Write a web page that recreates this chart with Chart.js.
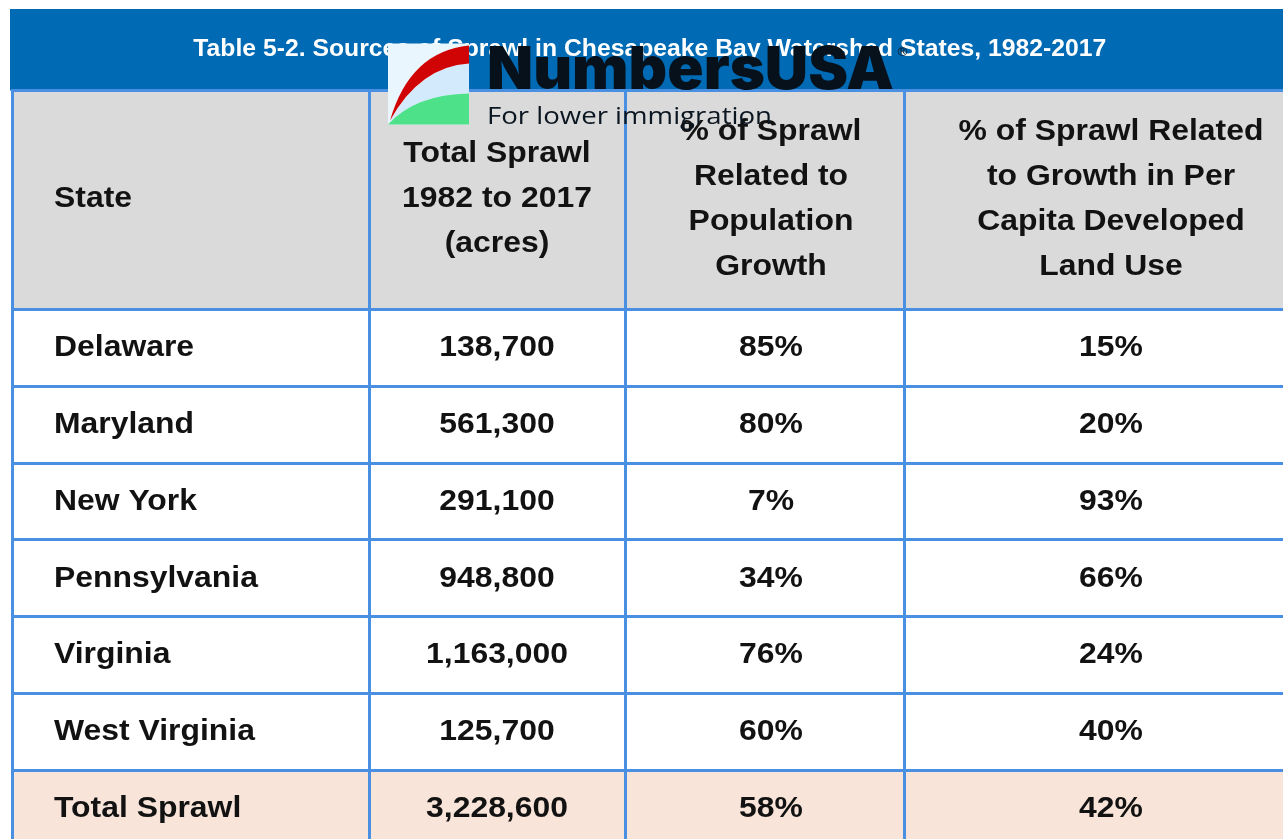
<!DOCTYPE html>
<html>
<head>
<meta charset="utf-8">
<script src="https://cdn.jsdelivr.net/npm/chart.js@4.4.1/dist/chart.umd.min.js"></script>
<style>
html,body{margin:0;padding:0;background:#fff;overflow:hidden}
#wrap{position:relative;width:1283px;height:839px}
</style>
</head>
<body>
<div id="wrap"><canvas id="c"></canvas></div>
<script>
// ---------- DATA ----------
const titleText = 'Table 5-2. Sources of Sprawl in Chesapeake Bay Watershed States, 1982-2017';
const headerLines = [
  ['State'],
  ['Total Sprawl', '1982 to 2017', '(acres)'],
  ['% of Sprawl', 'Related to', 'Population', 'Growth'],
  ['% of Sprawl Related', 'to Growth in Per', 'Capita Developed', 'Land Use']
];
const states = ['Delaware', 'Maryland', 'New York', 'Pennsylvania', 'Virginia', 'West Virginia'];
const totalSprawlAcres = [138700, 561300, 291100, 948800, 1163000, 125700];
const pctPopulationGrowth = [85, 80, 7, 34, 76, 60];
const pctPerCapitaLandUse = [15, 20, 93, 66, 24, 40];
const totalLabel = 'Total Sprawl';
const totalAcres = 3228600;
const totalPctPopulation = 58;
const totalPctPerCapita = 42;

// ---------- LAYOUT / STYLE ----------
const L = {
  colEdges: [0, 356.5, 612.5, 891.5, 1305.5],   // x-scale units
  colTextShift: [41.5, 0, 6.5, 0],
  headerTop: -2.85,                               // y-scale units (rows)
  bandTop: 9,
  lineHeight: 45,
  xStretch: 1.1
};
const C = {
  band: '#006bb4',
  grid: '#4a90e2',
  header: '#dadada',
  body: '#ffffff',
  total: '#f8e4d8',
  text: '#121212'
};
const FONT = '"Liberation Sans", Arial, Helvetica, sans-serif';
const fmtNum = v => v.toLocaleString('en-US');
const fmtPct = v => v + '%';

function drawStr(ctx, text, x, y, align, xs) {
  ctx.save();
  ctx.translate(x, y);
  ctx.scale(xs, 1);
  ctx.textAlign = align;
  ctx.textBaseline = 'alphabetic';
  ctx.fillText(text, 0, 0);
  ctx.restore();
}
function drawFit(ctx, text, x, y, width) {
  const w = ctx.measureText(text).width;
  ctx.save();
  ctx.translate(x, y);
  ctx.scale(width / w, 1);
  ctx.textAlign = 'left';
  ctx.textBaseline = 'alphabetic';
  ctx.fillText(text, 0, 0);
  ctx.restore();
}

const tablePlugin = {
  id: 'sprawlTable',
  beforeDraw(chart) {
    const {ctx, chartArea: ca, scales: {x, y}} = chart;
    const nRows = states.length;
    ctx.save();
    // title band
    const hTop = y.getPixelForValue(L.headerTop);
    ctx.fillStyle = C.band;
    ctx.fillRect(ca.left - 1, L.bandTop, ca.right - ca.left + 1, hTop - L.bandTop);
    ctx.beginPath();
    ctx.rect(ca.left, ca.top, ca.right - ca.left, ca.bottom - ca.top);
    ctx.clip();
    const xa = x.getPixelForValue(L.colEdges[0]);
    const xb = x.getPixelForValue(L.colEdges[L.colEdges.length - 1]);
    const fillRow = (v0, v1, col) => {
      const p0 = y.getPixelForValue(v0), p1 = y.getPixelForValue(v1);
      ctx.fillStyle = col;
      ctx.fillRect(xa, p0, xb - xa, p1 - p0);
    };
    fillRow(L.headerTop, 0, C.header);
    fillRow(0, nRows, C.body);
    fillRow(nRows, nRows + 1, C.total);
    ctx.restore();
  },
  afterDraw(chart) {
    const {ctx, chartArea: ca, scales: {x, y}} = chart;
    const nRows = states.length;
    ctx.save();

    // title
    ctx.fillStyle = '#ffffff';
    ctx.font = 'bold 23px ' + FONT;
    const tTarget = 913;
    const tCenter = (x.getPixelForValue(L.colEdges[0]) + x.getPixelForValue(L.colEdges[4])) / 2 - 15.5;
    drawFit(ctx, titleText, tCenter - tTarget / 2, 56, tTarget);

    // column anchors
    const colX = i => {
      const a = x.getPixelForValue(L.colEdges[i]);
      const b = x.getPixelForValue(L.colEdges[i + 1]);
      return i === 0 ? a + L.colTextShift[0] : (a + b) / 2 + L.colTextShift[i];
    };
    const align = i => (i === 0 ? 'left' : 'center');
    ctx.fillStyle = C.text;
    ctx.font = 'bold 29px ' + FONT;
    const capHalf = 10.4;

    // header
    const hc = (y.getPixelForValue(L.headerTop) + y.getPixelForValue(0)) / 2 - 3;
    headerLines.forEach((lines, i) => {
      const n = lines.length;
      lines.forEach((t, k) => {
        const cy = hc + (k - (n - 1) / 2) * L.lineHeight;
        drawStr(ctx, t, colX(i), cy + capHalf, align(i), L.xStretch);
      });
    });

    // body rows
    const rowBase = r => (y.getPixelForValue(r) + y.getPixelForValue(r + 1)) / 2 - 2 + capHalf;
    states.forEach((s, r) => {
      const cells = [s, fmtNum(totalSprawlAcres[r]), fmtPct(pctPopulationGrowth[r]), fmtPct(pctPerCapitaLandUse[r])];
      cells.forEach((t, i) => drawStr(ctx, t, colX(i), rowBase(r), align(i), L.xStretch));
    });
    const tot = [totalLabel, fmtNum(totalAcres), fmtPct(totalPctPopulation), fmtPct(totalPctPerCapita)];
    tot.forEach((t, i) => drawStr(ctx, t, colX(i), rowBase(nRows), align(i), L.xStretch));

    // NumbersUSA logo overlay
    const lx = 388, ly = 43.5, ls = 81;
    ctx.fillStyle = '#e9f6fd';
    ctx.fillRect(lx, ly, ls, ls);
    // light blue band
    ctx.fillStyle = '#d2eafb';
    ctx.beginPath();
    ctx.moveTo(lx, ly + ls);
    ctx.quadraticCurveTo(lx + 32, ly + 23, lx + ls, ly + 20);
    ctx.lineTo(lx + ls, ly + 50);
    ctx.quadraticCurveTo(lx + 27, ly + 51, lx, ly + ls);
    ctx.closePath();
    ctx.fill();
    // green
    ctx.fillStyle = '#4de189';
    ctx.beginPath();
    ctx.moveTo(lx, ly + ls);
    ctx.quadraticCurveTo(lx + 27, ly + 51, lx + ls, ly + 50);
    ctx.lineTo(lx + ls, ly + ls);
    ctx.closePath();
    ctx.fill();
    // red swoosh
    ctx.fillStyle = '#d00404';
    ctx.beginPath();
    ctx.moveTo(lx + 2, ly + ls - 4);
    ctx.quadraticCurveTo(lx + 22, ly + 8, lx + ls, ly + 2);
    ctx.lineTo(lx + ls, ly + 20);
    ctx.quadraticCurveTo(lx + 32, ly + 23, lx + 2, ly + ls - 4);
    ctx.closePath();
    ctx.fill();

    ctx.fillStyle = '#06111c';
    ctx.font = '900 59px Inter, "Liberation Sans", sans-serif';
    drawFit(ctx, 'NumbersUSA', 487, 89, 407);
    ctx.font = '13px "DejaVu Sans", sans-serif';
    ctx.textAlign = 'left';
    ctx.fillText('®', 896, 56);
    ctx.fillStyle = '#0c1621';
    ctx.font = '500 24px "Open Sans", sans-serif';
    drawFit(ctx, 'For lower immigration', 487, 124, 285);

    ctx.restore();
  }
};

const yTicks = [L.headerTop].concat(states.map((s, i) => i), [states.length]);

new Chart(document.getElementById('c'), {
  type: 'scatter',
  data: { datasets: [] },
  options: {
    responsive: true,
    maintainAspectRatio: false,
    animation: false,
    events: [],
    layout: { padding: { left: 11, top: 89, right: 0, bottom: 0 } },
    plugins: { legend: { display: false }, tooltip: { enabled: false }, title: { display: false } },
    scales: {
      x: {
        type: 'linear', min: -1.5, max: 1270.5,
        afterBuildTicks: s => { s.ticks = L.colEdges.slice(0, 4).map(v => ({ value: v })); },
        ticks: { display: false },
        grid: { color: C.grid, lineWidth: 3, drawTicks: false },
        border: { display: false }
      },
      y: {
        type: 'linear', reverse: true, min: -2.87, max: 6.8956,
        afterBuildTicks: s => { s.ticks = yTicks.map(v => ({ value: v })); },
        ticks: { display: false },
        grid: { color: C.grid, lineWidth: 3, drawTicks: false },
        border: { display: false }
      }
    }
  },
  plugins: [tablePlugin]
});
</script>
</body>
</html>
